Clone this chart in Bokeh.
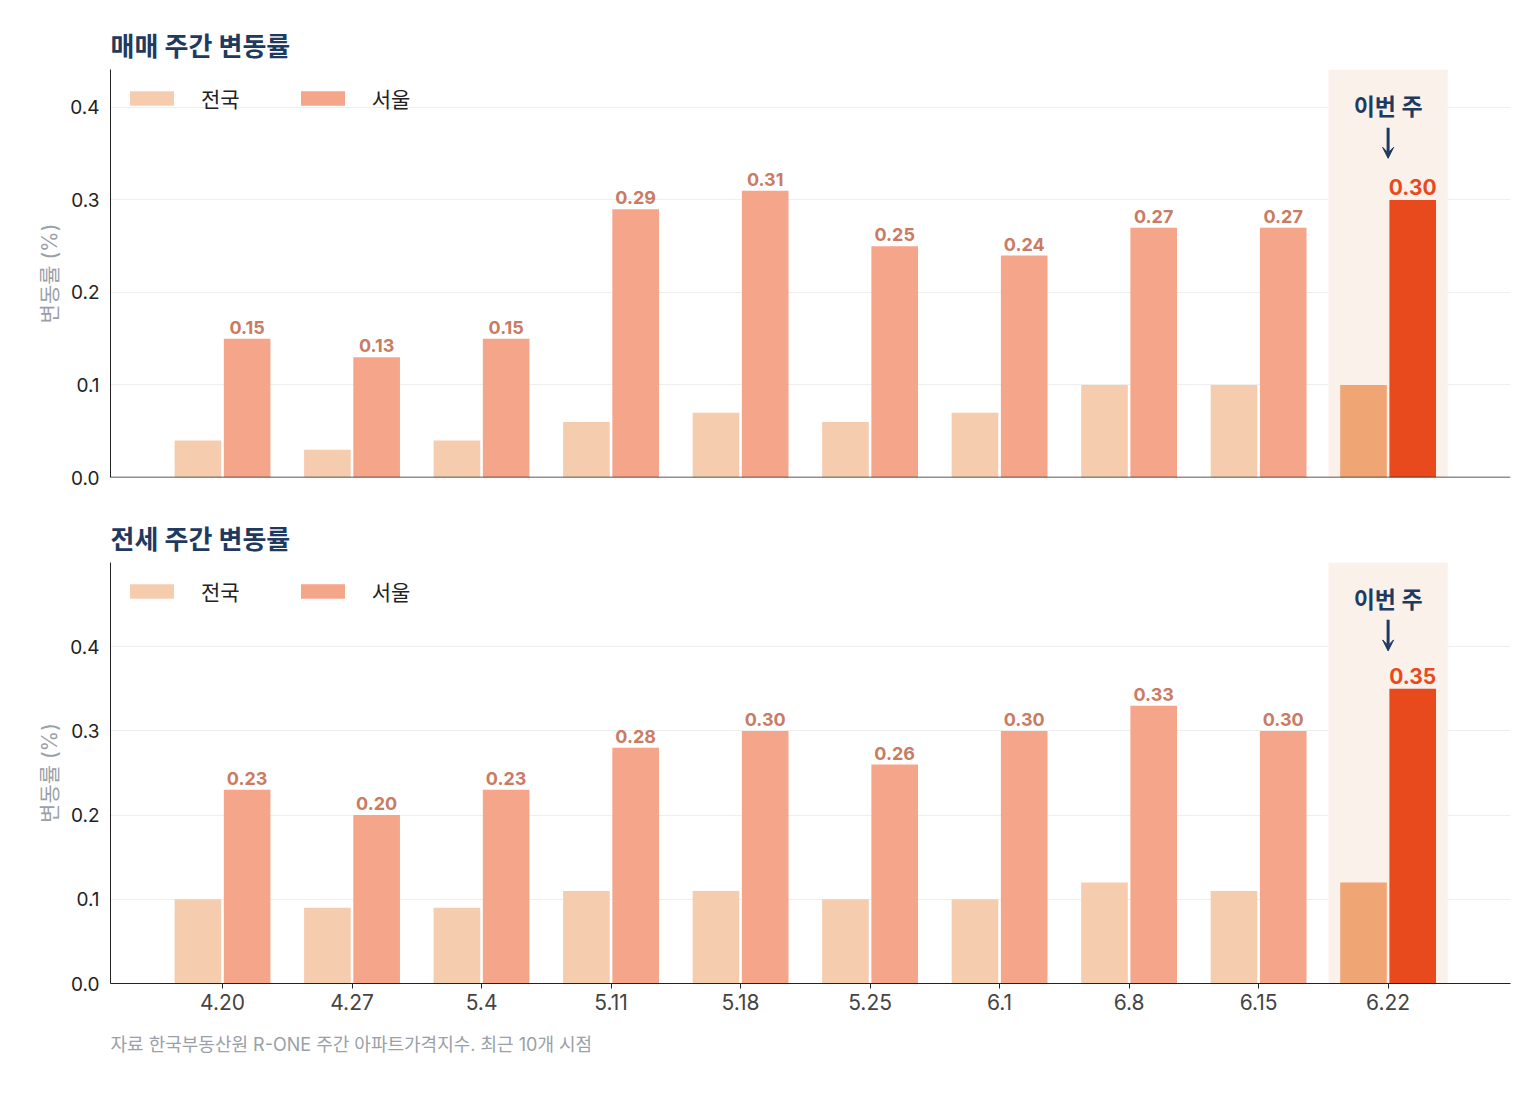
from bokeh.plotting import figure
from bokeh.models import (ColumnDataSource, FixedTicker, PrintfTickFormatter, Range1d,
                          Legend, LegendItem, Arrow, VeeHead, Label, Title, BoxAnnotation,
                          Span, Spacer)
from bokeh.layouts import column
from bokeh.embed import file_html
from bokeh.resources import INLINE
from bokeh.core.properties import value

weeks = ["4.20", "4.27", "5.4", "5.11", "5.18", "5.25", "6.1", "6.8", "6.15", "6.22"]
national_sale = [0.04, 0.03, 0.04, 0.06, 0.07, 0.06, 0.07, 0.10, 0.10, 0.10]
seoul_sale = [0.15, 0.13, 0.15, 0.29, 0.31, 0.25, 0.24, 0.27, 0.27, 0.30]
national_jeonse = [0.10, 0.09, 0.09, 0.11, 0.11, 0.10, 0.10, 0.12, 0.11, 0.12]
seoul_jeonse = [0.23, 0.20, 0.23, 0.28, 0.30, 0.26, 0.30, 0.33, 0.30, 0.35]

FONT = "Inter, 'Noto Sans CJK KR'"
NAVY = "#1F3A5F"
C_NAT, C_SEO = "#F6CCAE", "#F4A58A"
H_NAT, H_SEO = "#F0A575", "#E8491D"
LBL = "#C97B63"


def make(title, nat, seo, ymax, top_h, bottom, fig_h):
    p = figure(width=1524, height=fig_h, output_backend="svg", toolbar_location=None,
               x_range=Range1d(-0.865, 9.945), y_range=Range1d(0, ymax),
               min_border_left=110, min_border_right=14, min_border_top=0,
               min_border_bottom=20)
    p.title.text = title
    p.title.text_font = FONT
    p.title.text_font_size = "26px"
    p.title.text_color = NAVY
    p.title.text_font_style = "bold"
    p.title.standoff = 16
    p.outline_line_color = None
    p.background_fill_color = "white"
    n = len(weeks)
    xs = list(range(n))
    last = n - 1
    p.add_layout(BoxAnnotation(left=last - 0.46, right=last + 0.46, fill_color="#FAF1EA",
                               fill_alpha=1, line_color=None, level="underlay"))
    src = ColumnDataSource(dict(
        xn=[x - 0.19 for x in xs], xs=[x + 0.19 for x in xs], nat=nat, seo=seo,
        cn=[H_NAT if i == last else C_NAT for i in xs],
        cs=[H_SEO if i == last else C_SEO for i in xs],
        lab=["%.2f" % v for v in seo],
        lc=[H_SEO if i == last else LBL for i in xs],
        ls=["21px" if i == last else "18px" for i in xs],
        ly=[v + ymax * 0.012 for v in seo]))
    p.vbar(x="xn", top="nat", width=0.36, fill_color="cn", line_color=None, source=src)
    p.vbar(x="xs", top="seo", width=0.36, fill_color="cs", line_color=None, source=src)
    p.text(x="xs", y="ly", text="lab", text_color="lc", text_font_size="ls",
           text_font=value(FONT), text_font_style="bold", text_align="center",
           text_baseline="bottom", source=src)
    pn = p.rect(x=[-10], y=[-10], width=0.1, height=0.1, fill_color=C_NAT, line_color=None)
    ps = p.rect(x=[-10], y=[-10], width=0.1, height=0.1, fill_color=C_SEO, line_color=None)
    leg = Legend(items=[LegendItem(label="전국", renderers=[pn]),
                        LegendItem(label="서울", renderers=[ps])],
                 location="top_left", orientation="horizontal",
                 glyph_width=55, glyph_height=18, label_text_font=FONT,
                 label_text_font_size="21px", label_text_color="#222",
                 background_fill_alpha=0, border_line_color=None,
                 spacing=55, label_standoff=22, margin=14, padding=12)
    p.add_layout(leg)
    p.add_layout(Label(x=last, y=top_h[0], text="이번 주", text_font=FONT,
                       text_font_size="23px", text_font_style="bold", text_color=NAVY,
                       text_align="center", text_baseline="middle"))
    p.add_layout(Arrow(x_start=last, y_start=top_h[1], x_end=last, y_end=top_h[2],
                       line_color=NAVY, line_width=3,
                       end=VeeHead(size=11, fill_color=NAVY, line_color=NAVY)))
    p.xgrid.grid_line_color = None
    p.ygrid.grid_line_color = "#EEEEEE"
    p.ygrid.ticker = FixedTicker(ticks=[0, 0.1, 0.2, 0.3, 0.4])
    p.yaxis.ticker = FixedTicker(ticks=[0, 0.1, 0.2, 0.3, 0.4])
    p.yaxis.formatter = PrintfTickFormatter(format="%.1f")
    p.yaxis.axis_label = "변동률 (%)"
    p.yaxis.axis_label_text_font = FONT
    p.yaxis.axis_label_text_font_style = "normal"
    p.yaxis.axis_label_text_font_size = "21px"
    p.yaxis.axis_label_text_color = "#9AA0A8"
    p.yaxis.major_label_text_font = FONT
    p.yaxis.major_label_text_font_size = "19px"
    p.yaxis.major_label_text_color = "#222"
    p.yaxis.major_tick_line_color = None
    p.yaxis.minor_tick_line_color = None
    p.yaxis.axis_line_color = "#222"
    if bottom:
        p.xaxis.axis_line_color = "#222"
        p.xaxis.minor_tick_line_color = None
        p.xaxis.ticker = FixedTicker(ticks=xs)
        p.xaxis.major_label_overrides = {i: w for i, w in enumerate(weeks)}
        p.xaxis.major_label_text_font = FONT
        p.xaxis.major_label_text_color = "#444"
        p.xaxis.major_label_text_font_size = "21px"
        p.xaxis.major_tick_line_color = "#222"
        p.xaxis.major_tick_out = 5
        p.xaxis.major_tick_in = 0
        p.add_layout(Title(text="자료 한국부동산원 R-ONE 주간 아파트가격지수. 최근 10개 시점",
                           text_font=FONT, text_font_size="18px", text_color="#9AA0A8",
                           text_font_style="normal", standoff=38), "below")
    else:
        p.xaxis.visible = False
        p.add_layout(Span(location=0, dimension="width", line_color="#222", line_width=1.5))
    return p


p1 = make("매매 주간 변동률", national_sale, seoul_sale, 0.441, (0.40, 0.378, 0.345), False, 477)
p2 = make("전세 주간 변동률", national_jeonse, seoul_jeonse, 0.5, (0.456, 0.432, 0.395), True, 560)
layout = column(Spacer(height=20), p1, Spacer(height=16), p2, spacing=0)
open("out.html", "w").write(file_html(layout, INLINE))
